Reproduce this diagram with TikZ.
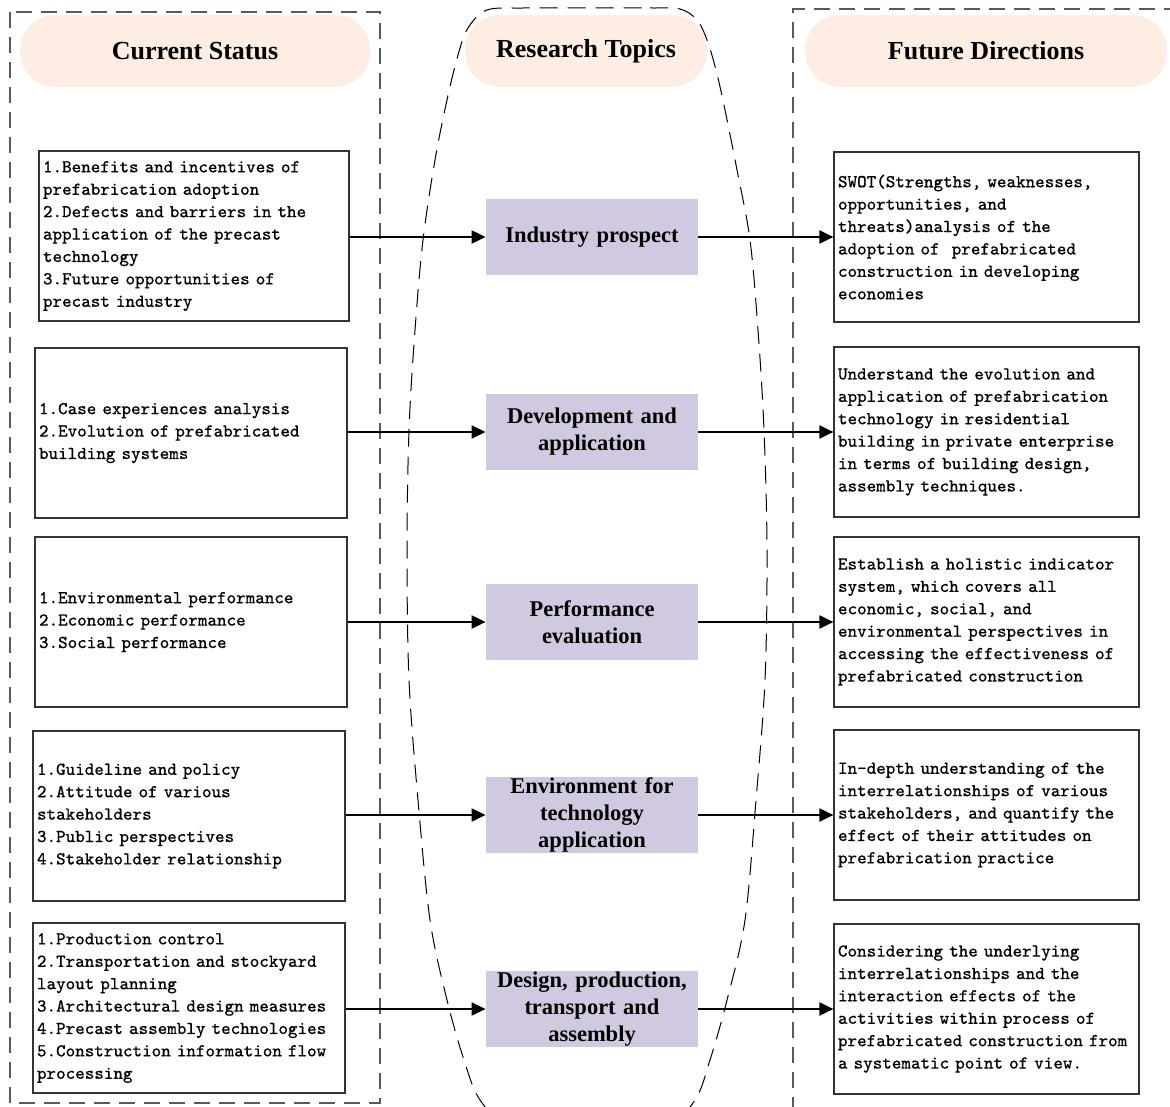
\documentclass[tikz,border=0pt]{standalone}
\usepackage{fontspec}
\setmainfont{Liberation Serif}
\newfontfamily\boxfont{Latin Modern Mono}[FakeBold=0.4]
\usetikzlibrary{arrows.meta}
\definecolor{peach}{HTML}{FDEDE3}
\definecolor{lilac}{HTML}{D1C9DF}
\begin{document}
\begin{tikzpicture}[x=0.5pt,y=-0.5pt,
  hdr/.style={fill=peach, rounded corners=17.5pt, minimum height=36pt, inner sep=0pt,
    font=\fontsize{13}{15}\selectfont\bfseries},
  topic/.style={fill=lilac, minimum width=106pt, minimum height=38pt, text width=102pt,
    align=center, inner sep=0pt, font=\fontsize{11.25}{13.5}\selectfont\bfseries},
  txtbox/.style={draw=black!80, line width=0.6pt, minimum height=85pt, inner xsep=2pt,
    inner ysep=0pt, align=left, font=\fontsize{9.1}{11.2}\selectfont\boxfont},
  dashbox/.style={draw=black!65, line width=0.6pt, dash pattern=on 8pt off 4.5pt},
  ell/.style={draw=black, line width=0.5pt, dash pattern=on 9pt off 5pt},
  arr/.style={line width=1pt, -{Triangle[length=7pt,width=6.5pt]}}
]
\useasboundingbox (0,0) rectangle (1170,1106);

% frames
\draw[dashbox] (10,12) rectangle (380,1103);
\draw[dashbox] (1180,9) -- (793,9) -- (793,1115);
\draw[ell] plot[smooth cycle, tension=0.55] coordinates {
  (587,8) (650,8) (680,9) (697,20) (707,40) (716,70) (725,110) (737,170) (750,240)
  (758,330) (764,430) (767,550) (765,680) (756,800) (745,920) (727,1000) (710,1060)
  (695,1100) (665,1125) (587,1130) (510,1125) (480,1100) (464,1060) (447,1000)
  (430,920) (418,800) (409,680) (407,550) (409,430) (415,330) (423,240) (435,160)
  (447,100) (458,55) (468,28) (487,10) (524,8)};

% headers
\node[hdr, minimum width=175pt] (hcs) at (195,51) {Current Status};
\node[hdr, minimum width=121pt] (hrt) at (586,51) {Research Topics};
\node[hdr, minimum width=181pt] (hfd) at (986,51) {Future Directions};

% left boxes
\node[txtbox, text width=151pt] (L1) at (194,236) {1.Benefits and incentives of\\prefabrication adoption\\2.Defects and barriers in the\\application of the precast\\technology\\3.Future opportunities of\\precast industry};
\node[txtbox, text width=152pt] (L2) at (191,433) {1.Case experiences analysis\\2.Evolution of prefabricated\\building systems};
\node[txtbox, text width=152pt] (L3) at (191,622) {1.Environmental performance\\2.Economic performance\\3.Social performance};
\node[txtbox, text width=152pt] (L4) at (189,816) {1.Guideline and policy\\2.Attitude of various\\stakeholders\\3.Public perspectives\\4.Stakeholder relationship};
\node[txtbox, text width=152pt] (L5) at (189,1008) {1.Production control\\2.Transportation and stockyard\\layout planning\\3.Architectural design measures\\4.Precast assembly technologies\\5.Construction information flow\\processing};

% topics
\node[topic] (M1) at (592,237) {Industry prospect};
\node[topic] (M2) at (592,432) {Development and\\application};
\node[topic] (M3) at (592,622) {Performance\\evaluation};
\node[topic] (M4) at (592,815) {Environment for\\technology\\application};
\node[topic] (M5) at (592,1009) {Design, production,\\transport and\\assembly};

% right boxes
\node[txtbox, text width=148.5pt] (R1) at (986.5,237) {SWOT(Strengths, weaknesses,\\opportunities, and\\threats)analysis of the\\adoption of\ \ prefabricated\\construction in developing\\economies};
\node[txtbox, text width=148.5pt] (R2) at (986.5,432) {Understand the evolution and\\application of prefabrication\\technology in residential\\building in private enterprise\\in terms of building design,\\assembly techniques.};
\node[txtbox, text width=148.5pt] (R3) at (986.5,622) {Establish a holistic indicator\\system, which covers all\\economic, social, and\\environmental perspectives in\\accessing the effectiveness of\\prefabricated construction};
\node[txtbox, text width=148.5pt] (R4) at (986.5,815) {In-depth understanding of the\\interrelationships of various\\stakeholders, and quantify the\\effect of their attitudes on\\prefabrication practice};
\node[txtbox, text width=148.5pt] (R5) at (986.5,1009) {Considering the underlying\\interrelationships and the\\interaction effects of the\\activities within process of\\prefabricated construction from\\a systematic point of view.};

% connectors
\foreach \i in {1,...,5} {
  \draw[arr] (L\i.east |- M\i.west) -- (M\i.west);
  \draw[arr] (M\i.east) -- (R\i.west |- M\i.east);
}
\end{tikzpicture}
\end{document}
